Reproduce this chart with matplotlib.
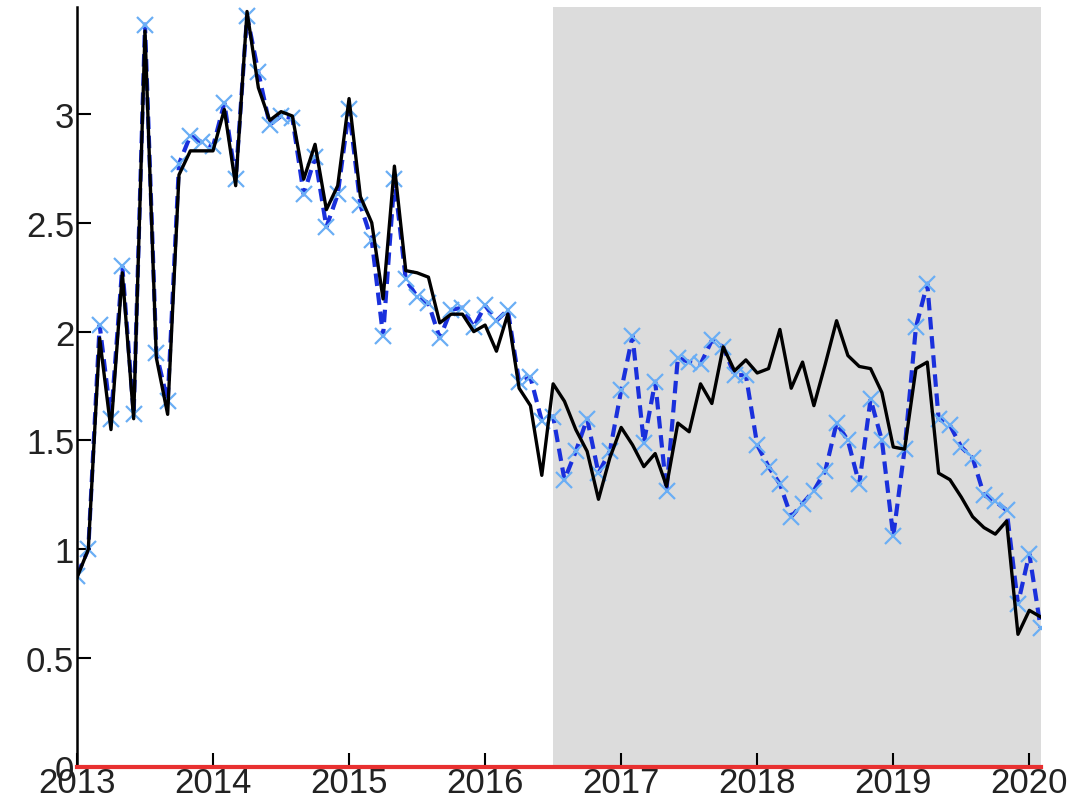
import numpy as np
import matplotlib
matplotlib.use("Agg")
import matplotlib.pyplot as plt

plt.rcParams['font.family'] = ['Liberation Sans Narrow', 'Liberation Sans', 'DejaVu Sans']

# monthly series, Jan 2013 .. Feb 2020
actual = [0.87, 1.0, 1.97, 1.55, 2.27, 1.6, 3.38, 1.88, 1.62, 2.72,
          2.83, 2.83, 2.83, 3.02, 2.67, 3.47, 3.12, 2.97, 3.01, 2.99,
          2.7, 2.86, 2.56, 2.67, 3.07, 2.62, 2.5, 2.15, 2.76, 2.28,
          2.27, 2.25, 2.04, 2.08, 2.08, 2.0, 2.03, 1.91, 2.08, 1.74,
          1.66, 1.34, 1.76, 1.68, 1.55, 1.45, 1.23, 1.42, 1.56, 1.48,
          1.38, 1.44, 1.29, 1.58, 1.54, 1.76, 1.67, 1.93, 1.82, 1.87,
          1.81, 1.83, 2.01, 1.74, 1.86, 1.66, 1.85, 2.05, 1.89, 1.84,
          1.83, 1.72, 1.47, 1.46, 1.83, 1.86, 1.35, 1.32, 1.24, 1.15,
          1.1, 1.07, 1.13, 0.61, 0.72, 0.69]

fitted = [0.88, 1.0, 2.03, 1.6, 2.3, 1.62, 3.41, 1.9, 1.68, 2.77,
          2.9, 2.87, 2.85, 3.05, 2.7, 3.45, 3.19, 2.95, 2.99, 2.98,
          2.63, 2.8, 2.48, 2.63, 3.02, 2.58, 2.42, 1.98, 2.7, 2.24,
          2.16, 2.13, 1.97, 2.1, 2.11, 2.02, 2.12, 2.05, 2.1, 1.77,
          1.79, 1.59, 1.61, 1.32, 1.45, 1.6, 1.35, 1.45, 1.73, 1.98,
          1.49, 1.77, 1.27, 1.88, 1.86, 1.85, 1.96, 1.93, 1.8, 1.8,
          1.48, 1.38, 1.3, 1.15, 1.21, 1.27, 1.36, 1.58, 1.5, 1.3,
          1.69, 1.5, 1.06, 1.46, 2.02, 2.22, 1.6, 1.57, 1.47, 1.42,
          1.25, 1.22, 1.18, 0.75, 0.98, 0.64]

years = [2013, 2014, 2015, 2016, 2017, 2018, 2019, 2020]
forecast_start = 2016.5

t = 2013 + np.arange(len(actual)) / 12.0

fig = plt.figure(figsize=(10.84, 8.12), dpi=100)
ax = fig.add_axes([0.071, 0.054, 0.889, 0.936])

ax.axvspan(forecast_start, t[-1], color='#dcdcdc', lw=0, zorder=0)

ax.plot(t, fitted, color='#1a30dc', ls='--', lw=3, dashes=(3, 1.6),
        marker='x', ms=11, mew=1.6, mec='#6aaef5', zorder=2)
ax.plot(t, actual, color='black', lw=2.4, zorder=3)

ax.axhline(0, color='#e83030', lw=3, zorder=4, clip_on=False)

ax.set_xlim(2013, t[-1])
ax.set_ylim(0, 3.49)
ax.set_xticks(years)
ax.set_xticklabels([str(y) for y in years])
ax.set_yticks([0, 0.5, 1, 1.5, 2, 2.5, 3])
ax.set_yticklabels(['0', '0.5', '1', '1.5', '2', '2.5', '3'])

for s in ['top', 'right', 'bottom']:
    ax.spines[s].set_visible(False)
ax.spines['left'].set_linewidth(1.8)
ax.tick_params(direction='in', length=10, width=1.5, labelsize=25,
               labelcolor='#222222', pad=2)
ax.tick_params(axis='x', pad=-1)
ax.set_facecolor('white')

fig.savefig('out.png', dpi=100)
